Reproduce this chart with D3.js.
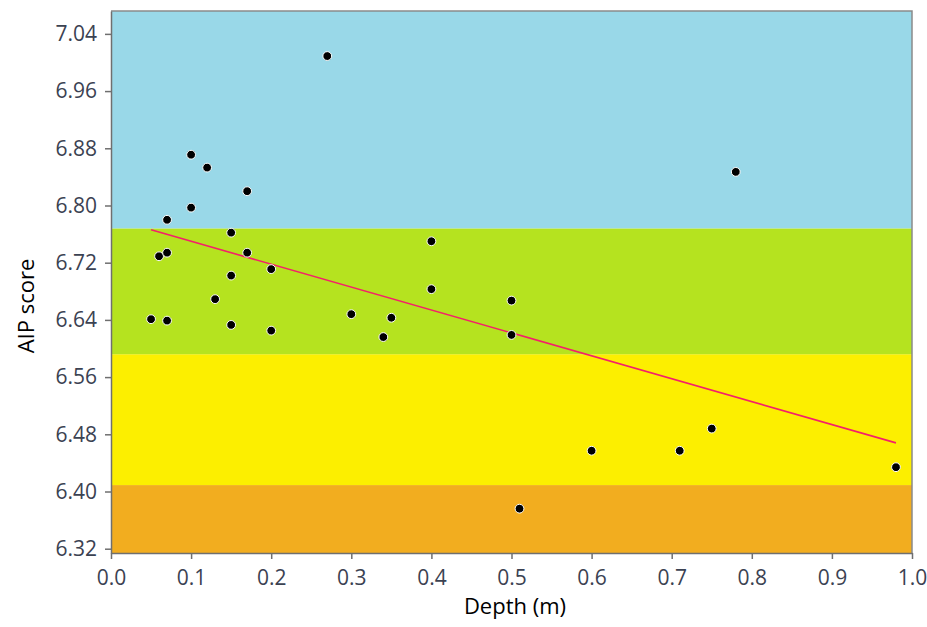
<!DOCTYPE html>
<html>
<head>
<meta charset="utf-8">
<script src="https://cdn.jsdelivr.net/npm/d3@7"></script>
<style>
  html, body { margin: 0; padding: 0; background: #fff; }
  svg { display: block; }
  .tick text { font-family: "Open Sans", "Noto Sans", sans-serif; }
</style>
</head>
<body>
<svg id="chart" width="927" height="627"></svg>
<script>
// Sample depth (m) and AIP score
const depth = [0.05, 0.07, 0.06, 0.07, 0.07, 0.10, 0.10, 0.12, 0.13, 0.15,
               0.15, 0.15, 0.17, 0.17, 0.20, 0.20, 0.27, 0.30, 0.34, 0.35,
               0.40, 0.40, 0.50, 0.50, 0.51, 0.60, 0.71, 0.75, 0.78, 0.98];
const aipScore = [6.641, 6.639, 6.729, 6.734, 6.780, 6.871, 6.797, 6.853, 6.669, 6.762,
                  6.702, 6.633, 6.820, 6.734, 6.711, 6.625, 7.009, 6.648, 6.616, 6.643,
                  6.750, 6.683, 6.667, 6.619, 6.376, 6.457, 6.457, 6.488, 6.847, 6.434];

// Linear trend across the sampled depth range (end points)
const trendDepth = [0.05, 0.98];
const trendScore = [6.766, 6.468];

// Score classes drawn as horizontal bands (lower, upper bound)
const bandLower = [6.20, 6.409, 6.592, 6.768];
const bandUpper = [6.409, 6.592, 6.768, 7.20];
const bandColors = ["#f2ad1f", "#fcef00", "#b5e31f", "#99d8e8"];

// Axis ticks
const xTicks = [0, 0.1, 0.2, 0.3, 0.4, 0.5, 0.6, 0.7, 0.8, 0.9, 1.0];
const yTicks = [6.32, 6.40, 6.48, 6.56, 6.64, 6.72, 6.80, 6.88, 6.96, 7.04];

const plot = { left: 111, top: 11, right: 912, bottom: 553 };

const svg = d3.select("#chart");
const x = d3.scaleLinear().domain([0, 1]).range([plot.left, plot.right]);
const y = d3.scaleLinear().domain([6.314, 7.072]).range([plot.bottom, plot.top]);

svg.append("defs").append("clipPath").attr("id", "plotClip")
  .append("rect")
  .attr("x", plot.left).attr("y", plot.top)
  .attr("width", plot.right - plot.left).attr("height", plot.bottom - plot.top);

const bands = bandLower.map((lo, i) => ({ lo, hi: bandUpper[i], color: bandColors[i] }));
svg.append("g").attr("clip-path", "url(#plotClip)")
  .selectAll("rect").data(bands).join("rect")
  .attr("x", plot.left)
  .attr("width", plot.right - plot.left)
  .attr("y", d => y(d.hi))
  .attr("height", d => y(d.lo) - y(d.hi))
  .attr("fill", d => d.color);

// Frame: top and right edges
svg.append("path")
  .attr("d", `M${plot.left},${plot.top}H${plot.right}V${plot.bottom}`)
  .attr("fill", "none").attr("stroke", "#8a8a8a").attr("stroke-width", 1.5);

// Trend line
svg.append("path")
  .datum(trendDepth.map((d, i) => [d, trendScore[i]]))
  .attr("d", d3.line().x(d => x(d[0])).y(d => y(d[1])))
  .attr("fill", "none").attr("stroke", "#f4206a").attr("stroke-width", 1.6);

// Sample points
svg.append("g").selectAll("circle")
  .data(depth.map((d, i) => [d, aipScore[i]]))
  .join("circle")
  .attr("cx", d => x(d[0])).attr("cy", d => y(d[1]))
  .attr("r", 4.4).attr("fill", "#000")
  .attr("stroke", "#fff").attr("stroke-width", 1);

// Axes
const xAxis = svg.append("g").attr("transform", `translate(0,${plot.bottom})`)
  .call(d3.axisBottom(x).tickValues(xTicks).tickFormat(d3.format(".1f"))
    .tickSize(6).tickSizeOuter(0).tickPadding(11));
const yAxis = svg.append("g").attr("transform", `translate(${plot.left},0)`)
  .call(d3.axisLeft(y).tickValues(yTicks).tickFormat(d3.format(".2f"))
    .tickSize(6).tickSizeOuter(0).tickPadding(8));

[xAxis, yAxis].forEach(g => {
  g.select(".domain").attr("stroke", "#6f6f6f").attr("stroke-width", 1.5);
  g.selectAll(".tick line").attr("stroke", "#6f6f6f").attr("stroke-width", 1.5);
  g.selectAll(".tick text").attr("fill", "#3b4252").attr("font-size", 21);
});

// Axis titles
svg.append("text")
  .attr("x", 515).attr("y", 614)
  .attr("text-anchor", "middle")
  .attr("font-family", "'Open Sans', 'Noto Sans', sans-serif")
  .attr("font-size", 22).attr("fill", "#000")
  .text("Depth (m)");
svg.append("text")
  .attr("transform", "translate(34,306) rotate(-90)")
  .attr("text-anchor", "middle")
  .attr("font-family", "'Open Sans', 'Noto Sans', sans-serif")
  .attr("font-size", 22).attr("fill", "#000")
  .text("AIP score");
</script>
</body>
</html>
